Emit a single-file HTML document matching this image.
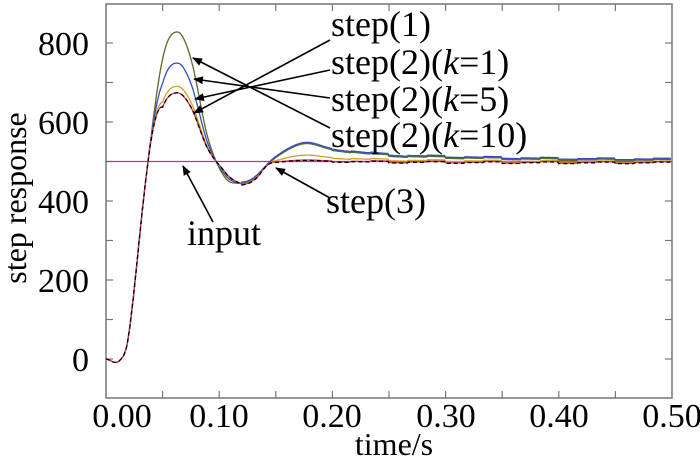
<!DOCTYPE html>
<html><head><meta charset="utf-8"><style>
body{margin:0;background:#fff;}
svg{display:block;font-family:"Liberation Serif",serif;}
</style></head><body>
<svg id="s" width="700" height="460" viewBox="0 0 700 460" xmlns="http://www.w3.org/2000/svg">
<defs><marker id="ah" markerWidth="10" markerHeight="8" refX="9" refY="4" orient="auto" markerUnits="userSpaceOnUse"><path d="M0,0 L10,4 L0,8 z" fill="#000"/></marker></defs>
<rect x="106" y="4" width="566" height="394" fill="none" stroke="#777" stroke-width="1.5"/>
<g stroke="#777" stroke-width="1.2" id="ticks"></g>
<g font-size="34" fill="#000" text-anchor="end">
<text x="89" y="55">800</text><text x="89" y="134">600</text><text x="89" y="213">400</text><text x="89" y="292">200</text><text x="89" y="371">0</text>
</g>
<g font-size="34" fill="#000" text-anchor="middle">
<text x="122" y="427">0.00</text><text x="219" y="427">0.10</text><text x="332" y="427">0.20</text><text x="446" y="427">0.30</text><text x="559" y="427">0.40</text><text x="672" y="427">0.50</text>
</g>
<text x="394" y="455" font-size="32" text-anchor="middle">time/s</text>
<text transform="translate(26,198) rotate(-90)" font-size="32" text-anchor="middle">step response</text>
<line x1="106" y1="161.5" x2="672" y2="161.5" stroke="#d0307a" stroke-width="1.3"/>
<g id="curves" fill="none" stroke-width="1.3"></g>
<g stroke="#000" stroke-width="1.6" marker-end="url(#ah)">
<line x1="330" y1="40" x2="194" y2="113"/>
<line x1="330" y1="70" x2="195" y2="99"/>
<line x1="330" y1="98" x2="194" y2="79"/>
<line x1="330" y1="128" x2="193" y2="58"/>
<line x1="330" y1="198" x2="276" y2="168"/>
<line x1="213" y1="222" x2="183" y2="166"/>
</g>
<g font-size="36" fill="#000">
<text x="331" y="36">step(1)</text>
<text x="331" y="74">step(2)(<tspan font-style="italic">k</tspan>=1)</text>
<text x="331" y="111">step(2)(<tspan font-style="italic">k</tspan>=5)</text>
<text x="331" y="147">step(2)(<tspan font-style="italic">k</tspan>=10)</text>
<text x="326" y="213">step(3)</text>
<text x="187" y="245">input</text>
</g>
</svg>
<script>
var X=function(t){return 106+1132*t},Y=function(v){return 359-0.395*v};
var tk=document.getElementById('ticks'),h='';
for(var i=1;i<10;i++){var x=X(i*0.05);h+='<line x1="'+x+'" y1="398" x2="'+x+'" y2="391"/><line x1="'+x+'" y1="4" x2="'+x+'" y2="11"/>';}
for(var v=-0;v<=800;v+=100){var y=Y(v);h+='<line x1="106" y1="'+y+'" x2="113" y2="'+y+'"/><line x1="672" y1="'+y+'" x2="665" y2="'+y+'"/>';}
tk.innerHTML=h;
var P=[[0,0],[0.012,-4],[0.02,60],[0.035,450],[0.05,760],[0.063,828],[0.075,760],[0.09,560],[0.105,460],[0.118,445],[0.13,455],[0.15,510],[0.175,545],[0.2,530],[0.25,515],[0.3,510],[0.4,505],[0.5,503]];
function interp(t){for(var i=0;i<P.length-1;i++){if(t<=P[i+1][0]){var p0=P[Math.max(i-1,0)],p1=P[i],p2=P[i+1],p3=P[Math.min(i+2,P.length-1)];var u=(t-p1[0])/(p2[0]-p1[0]);var m1=(p2[1]-p0[1])/(p2[0]-p0[0])*(p2[0]-p1[0]),m2=(p3[1]-p1[1])/(p3[0]-p1[0])*(p2[0]-p1[0]);var u2=u*u,u3=u2*u;return (2*u3-3*u2+1)*p1[1]+(u3-2*u2+u)*m1+(-2*u3+3*u2)*p2[1]+(u3-u2)*m2;}}return 503;}
var S=[["#5a6a2a",1,1,0,""],["#3050c0",0.76,1,3,""],["#d0a020",0.58,0.4,-2,""],["#d03050",0.53,0.15,-3,""],["#000",0.53,0.15,-4,"4,3"]];
var g=document.getElementById('curves'),o='';
S.forEach(function(s){var d='';for(var t=0;t<=0.5;t+=0.001){var v=interp(t);var f;
if(t<0.035)f=1;else if(t<0.05)f=1+(s[1]-1)*(t-0.035)/0.015;else if(t<0.1)f=s[1];else if(t<0.118)f=s[1]+(1-s[1])*(t-0.1)/0.018;else if(t<0.135)f=1;else if(t<0.15)f=1+(s[2]-1)*(t-0.135)/0.015;else f=s[2];
v=500+(v-500)*f;if(t>0.05)v+=s[3]*(t>0.12?1:0);if(t>0.2)v+=((Math.floor(t*60)%3)-1)*2;d+=(d?'L':'M')+X(t).toFixed(1)+','+Y(v).toFixed(1);}
o+='<path d="'+d+'" stroke="'+s[0]+'"'+(s[4]?' stroke-dasharray="'+s[4]+'"':'')+'/>';});
g.innerHTML=o;
</script>
</body></html>
